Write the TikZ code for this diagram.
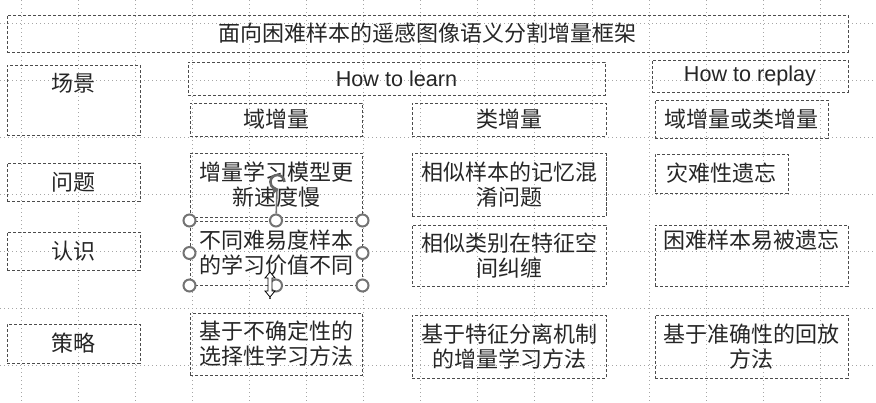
\documentclass[tikz,border=0pt]{standalone}
\usepackage{fontspec}
\setmainfont{Liberation Sans}
\newfontfamily\cjk{Noto Sans CJK SC}
\usetikzlibrary{positioning,arrows.meta}

\begin{document}
\begin{tikzpicture}[x=0.5pt,y=-0.5pt,
    gridline/.style={black!35,line width=0.5pt,dash pattern=on 0.5pt off 1.5pt},
    dbox/.style={draw=black!70,line width=0.5pt,dash pattern=on 1.6pt off 0.9pt,
                 inner sep=0pt,align=center,text=black!85,
                 font=\cjk\fontsize{11}{12.5}\selectfont},
    latin/.style={font=\rmfamily\fontsize{10.8}{13}\selectfont},
    handle/.style={circle,draw=black!55,fill=white,line width=1pt,
                   minimum size=6pt,inner sep=0pt}]
  \useasboundingbox[fill=white] (0,0) rectangle (876,402);
  % grid of the slide
  \foreach \k in {0,...,14}
    \draw[gridline] (21+57.1*\k,0) -- (21+57.1*\k,402);
  \foreach \k in {0,...,6}
    \draw[gridline] (0,23+57.1*\k) -- (876,23+57.1*\k);
  % boxes: name/x/y/width/height/text
  \foreach \n/\x/\y/\w/\h/\t in {
      title/427.5/33.5/841/37/{面向困难样本的遥感图像语义分割增量框架},
      scene/73.5/100/133/70/{},
      domain/276/119.5/172/33/{域增量},
      class/509/119.5/194/33/{类增量},
      either/741.5/119/173/38/{域增量或类增量},
      prob/73.5/182/133/38/{问题},
      p1/276/185/172/64/{增量学习模型更\\新速度慢},
      p2/509/185/194/63/{相似样本的记忆混\\淆问题},
      p3/721.5/173.5/133/39/{灾难性遗忘},
      know/73.5/251/133/38/{认识},
      r1/276/253/172/64/{不同难易度样本\\的学习价值不同},
      r2/509/255.5/194/61/{相似类别在特征空\\间纠缠},
      r3/751.5/255.5/193/61/{},
      strat/73.5/343.5/133/39/{策略},
      s1/276/344/172/62/{基于不确定性的\\选择性学习方法},
      s2/509/346.5/194/63/{基于特征分离机制\\的增量学习方法},
      s3/751.5/346.5/193/63/{基于准确性的回放\\方法}}
    \node[dbox,minimum width=\w*0.5pt,minimum height=\h*0.5pt] (\n) at (\x,\y) {\t};
  \node[dbox,latin,minimum width=208.5pt,minimum height=16.5pt] (learn) at (396.5,78.5) {How to learn};
  \node[dbox,latin,minimum width=98pt,minimum height=16pt] (replay) at (750,76) {How to replay};
  % texts set at the top of their box
  \node[dbox,draw=none] (tscene) [below=4pt of scene.north] {场景};
  \node[dbox,draw=none] (tr3) [below=2.6pt of r3.north] {困难样本易被遗忘};
  % selection handles
  \foreach \a [count=\i] in {north west,north,north east,west,east,south west,south,south east}
    \node[handle] (h\i) at (r1.\a) {};
  \node[circle,minimum size=7pt,inner sep=0pt] (rot) at (277,182) {};
  \draw[black!55,line width=0.8pt] (h2) -- (rot.south);
  \draw[black!60,line width=1.3pt,-{Triangle[length=3pt,width=4pt]}]
    (rot.east) arc[start angle=0,end angle=280,radius=3.5pt];
  \draw[black,line width=0.4pt,fill=white] (270,272) -- (265,278) -- (268,278) -- (268,291)
    -- (265,291) -- (270,297) -- (275,291) -- (272,291) -- (272,278) -- (275,278) -- cycle;
  \fill[black] (270,298) circle[radius=1];
\end{tikzpicture}
\end{document}
